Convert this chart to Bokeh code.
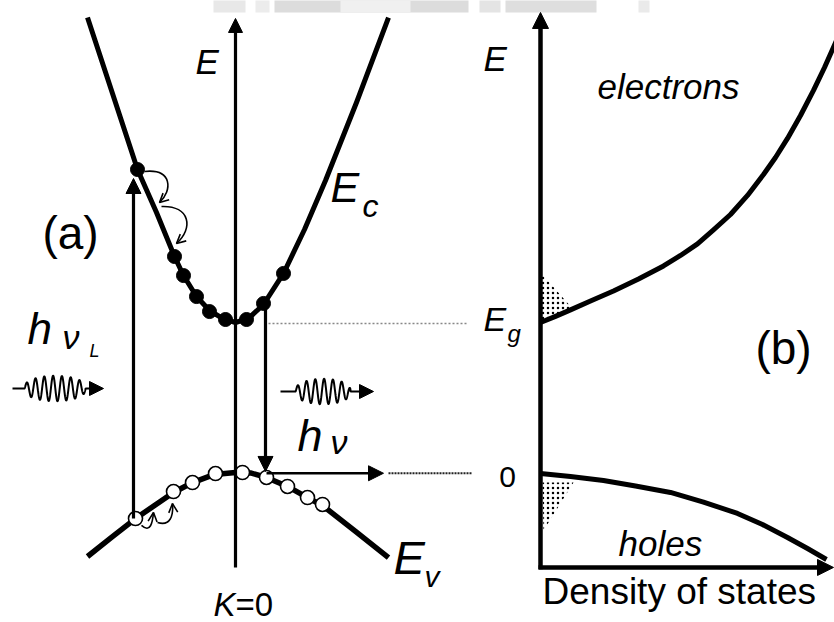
import numpy as np
from bokeh.plotting import figure
from bokeh.models import Range1d, Arrow, NormalHead, OpenHead
from bokeh.core.properties import value
from bokeh.embed import file_html
from bokeh.resources import INLINE

# ---------------------------------------------------------------
# Band structure (a): wave vector k (arb. units) vs energy E (units of Eg,
# valence-band top at 0)
# ---------------------------------------------------------------
E_GAP = 1.0

cb_k = [-1.48, -1.23, -0.98, -0.79, -0.61, -0.52, -0.39, -0.26, -0.13, 0.0,
        0.13, 0.28, 0.48, 0.69, 0.90, 1.21, 1.53]
cb_e = [3.033, 2.527, 2.02, 1.733, 1.44, 1.313, 1.173, 1.08, 1.027, 1.0,
        1.027, 1.12, 1.327, 1.62, 1.947, 2.467, 3.033]

vb_k = [-1.48, -1.24, -1.00, -0.81, -0.62, -0.43, -0.21, 0.0, 0.15, 0.31,
        0.52, 0.72, 0.87, 1.20, 1.53]
vb_e = [-0.56, -0.433, -0.307, -0.22, -0.133, -0.067, -0.013, 0.0, -0.003,
        -0.033, -0.093, -0.167, -0.22, -0.393, -0.567]

electrons_k = [-0.98, -0.61, -0.52, -0.39, -0.26, -0.10, 0.11, 0.28, 0.48]
electrons_e = [2.02, 1.44, 1.313, 1.173, 1.073, 1.02, 1.02, 1.127, 1.327]

holes_k = [-1.00, -0.62, -0.43, -0.20, 0.07, 0.31, 0.52, 0.72, 0.87]
holes_e = [-0.307, -0.127, -0.067, -0.007, 0.0, -0.033, -0.093, -0.167, -0.213]

# pump (laser) and emission transitions
pump_k, pump_e0, pump_e1 = -1.02, -0.307, 1.96
emit_k, emit_e0, emit_e1 = 0.30, 1.127, 0.007

# ---------------------------------------------------------------
# Density of states (b)
# ---------------------------------------------------------------
dos_c_d = [0.0, 0.15, 0.30, 0.50, 0.73, 0.98, 1.23, 1.40, 1.57, 1.73,
           1.90, 2.07, 2.23, 2.35, 2.47, 2.60, 2.73, 2.84, 2.96]
dos_c_e = [1.0, 1.041, 1.084, 1.143, 1.21, 1.29, 1.377, 1.447, 1.524, 1.617,
           1.72, 1.847, 1.987, 2.10, 2.227, 2.38, 2.547, 2.70, 2.88]

dos_v_d = [0.0, 0.30, 0.63, 0.95, 1.30, 1.63, 1.97, 2.22, 2.47, 2.67, 2.86]
dos_v_e = [-0.007, -0.027, -0.053, -0.09, -0.133, -0.197, -0.273, -0.347,
           -0.433, -0.507, -0.58]

# occupied states near the band edges (stippled)
occ_c_d = [0.01, 0.31, 0.15, 0.01]
occ_c_e = [1.327, 1.10, 1.053, 1.007]
occ_v_d = [0.02, 0.33, 0.03]
occ_v_e = [-0.067, -0.067, -0.387]

FONT = value("Liberation Sans")

p = figure(width=834, height=622,
           x_range=Range1d(-2.35, 5.99), y_range=Range1d(-1.0, 3.1467),
           x_axis_type=None, y_axis_type=None,
           output_backend="svg", toolbar_location=None, min_border=0)
p.extra_x_ranges = {"dos": Range1d(-5.40, 2.94)}
p.grid.visible = False
p.outline_line_color = None
p.background_fill_color = "white"
p.border_fill_color = "white"

# faint grey band along the top edge
p.quad(left=[-0.22, 0.20, 0.39, 2.44, 2.70, 4.03],
       right=[0.10, 0.34, 2.33, 2.65, 3.61, 4.14],
       bottom=[3.067] * 6, top=[3.15] * 6,
       fill_color=["#e8e8e8", "#ececec", "#dcdcdc", "#e4e4e4", "#dedede", "#eaeaea"],
       line_color=None)
p.quad(left=[1.05], right=[1.75], bottom=[3.067], top=[3.15],
       fill_color="#f0f0f0", line_color=None)


def arrow(x0, y0, x1, y1, width=3.0, head=15, rng="default"):
    p.add_layout(Arrow(x_start=x0, y_start=y0, x_end=x1, y_end=y1,
                       line_width=width, line_color="black",
                       end=NormalHead(size=head, fill_color="black",
                                      line_color="black", line_width=1),
                       x_range_name=rng))


def curved(x0, y0, cx0, cy0, cx1, cy1, x1, y1):
    p.bezier(x0=[x0], y0=[y0], x1=[x1], y1=[y1], cx0=[cx0], cy0=[cy0],
             cx1=[cx1], cy1=[cy1], line_color="black", line_width=1.6)
    p.add_layout(Arrow(x_start=cx1, y_start=cy1, x_end=x1, y_end=y1,
                       line_alpha=0,
                       end=OpenHead(size=9, line_width=1.6, line_color="black")))


def photon(xs, xo0, xo1, xe, xtip, yc, amp, period):
    # wavy photon symbol ending in an arrow head
    x = np.linspace(xs, xe, 500)
    t = np.clip((x - xo0) / (xo1 - xo0), 0, 1)
    env = np.sin(np.pi * t) ** 0.35
    y = yc + amp * env * np.sin(2 * np.pi * (x - xo0) / period)
    p.line(x, y, line_color="black", line_width=2)
    arrow(xe, yc, xtip, yc, width=2, head=14)


# dotted guide lines at Eg and at 0
p.line([0.33, 2.33], [E_GAP - 0.007, E_GAP - 0.007], line_color="#888888",
       line_width=1.5, line_dash="2 2")
p.line([1.53, 2.36], [-0.005, -0.005], line_color="#222222",
       line_width=2, line_dash="2 1")

# bands
p.line(cb_k, cb_e, line_color="black", line_width=5, line_join="round")
p.line(vb_k, vb_e, line_color="black", line_width=5.5, line_join="round")

# energy axis at K=0
arrow(0.0, -0.633, 0.0, 3.027, width=3.2, head=14)

# transitions
arrow(pump_k, pump_e0, pump_k, pump_e1, width=3.2, head=15)
arrow(emit_k, emit_e0, emit_k, emit_e1, width=3.2, head=15)
arrow(0.31, -0.005, 1.48, -0.005, width=2.6, head=15)

# relaxation of carriers
curved(-0.91, 2.007, -0.63, 2.027, -0.63, 1.88, -0.76, 1.80)
curved(-0.74, 1.773, -0.45, 1.78, -0.42, 1.627, -0.59, 1.527)
curved(-0.94, -0.353, -0.85, -0.407, -0.83, -0.333, -0.82, -0.267)
curved(-0.78, -0.333, -0.65, -0.36, -0.62, -0.287, -0.63, -0.207)

# photons
photon(-2.23, -2.11, -1.50, -1.44, -1.32, 0.56, 0.085, 0.088)
photon(0.45, 0.60, 1.15, 1.24, 1.38, 0.54, 0.085, 0.088)

# carriers
p.scatter(electrons_k, electrons_e, size=14, fill_color="black", line_color="black",
          line_width=1)
p.scatter(holes_k, holes_e, size=14, fill_color="white", line_color="black",
          line_width=1.6)

# ---- panel (b) ----
p.patch(occ_c_d, occ_c_e, x_range_name="dos", fill_color=None, line_color=None,
        hatch_pattern="dot", hatch_color="black", hatch_scale=5, hatch_weight=1.3)
p.patch(occ_v_d, occ_v_e, x_range_name="dos", fill_color=None, line_color=None,
        hatch_pattern="dot", hatch_color="black", hatch_scale=5, hatch_weight=1.3)
p.line(dos_c_d, dos_c_e, x_range_name="dos", line_color="black", line_width=5,
       line_join="round")
p.line(dos_v_d, dos_v_e, x_range_name="dos", line_color="black", line_width=5,
       line_join="round")
arrow(0.0, -0.645, 0.0, 3.067, width=4.5, head=16, rng="dos")
arrow(-0.02, -0.633, 2.93, -0.633, width=4.5, head=16, rng="dos")


def label(x, y, txt, size, italic=False, align="left", rng="default"):
    # y is the text baseline; lift by the renderer's baseline offset
    p.text(x=[x], y=[y + 0.39 * size / 150.0], text=[txt], text_font=FONT,
           text_font_size=f"{size}px",
           text_font_style="italic" if italic else "normal",
           text_align=align, text_baseline="alphabetic", text_color="black",
           x_range_name=rng)


# panel (a) labels
label(-0.40, 2.647, "E", 35, italic=True)
label(-1.65, 1.48, "(a)", 46, align="center")
label(0.95, 1.793, "E", 43, italic=True)
label(1.27, 1.693, "c", 32, italic=True)
label(1.58, -0.687, "E", 47, italic=True)
label(1.89, -0.773, "v", 30, italic=True)
label(-0.22, -0.967, "K", 33, italic=True)
label(0.0, -0.967, "=0", 33)
label(-2.08, 0.847, "h", 44, italic=True)
label(-1.73, 0.813, "ν", 34, italic=True)
label(-1.46, 0.76, "L", 18, italic=True)
label(0.62, 0.127, "h", 45, italic=True)
label(0.95, 0.113, "ν", 34, italic=True)

# panel (b) labels
label(-0.57, 2.667, "E", 35, italic=True, rng="dos")
label(0.57, 2.48, "electrons", 35, italic=True, rng="dos")
label(-0.57, 0.933, "E", 34, italic=True, rng="dos")
label(-0.33, 0.867, "g", 24, italic=True, rng="dos")
label(-0.33, -0.107, "0", 30, align="center", rng="dos")
label(2.43, 0.713, "(b)", 46, align="center", rng="dos")
label(0.78, -0.567, "holes", 35, italic=True, rng="dos")
label(0.02, -0.887, "Density of states", 37, rng="dos")

open("out.html", "w").write(file_html(p, INLINE))
